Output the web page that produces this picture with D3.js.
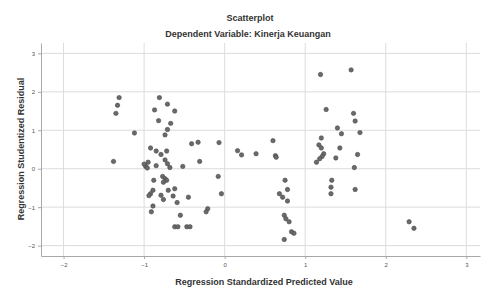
<!DOCTYPE html>
<html>
<head>
<meta charset="utf-8">
<script src="https://cdn.jsdelivr.net/npm/d3@7"></script>
<style>
body { margin: 0; background: #fff; }
text { font-family: Arial, "Liberation Sans", sans-serif; }
</style>
</head>
<body>
<div id="chart"></div>
<script>
var width = 483
var height = 288

// standardized predicted values (x) and studentized residuals (y)
var predicted = [
	-1.31, -1.33, -1.35, -0.81, -0.71, -0.87, -0.62, -0.82, -0.67, -0.71,
	-1.12, -0.74, -0.41, -0.33, -0.07, 0.16, -0.92, -0.85, -0.72, -0.79,
	-0.74, -1.38, -0.95, -0.98, -1.00, -0.96, -0.85, -0.71, -0.68, -0.52,
	-0.31, -0.08, -0.88, -0.77, -0.74, -0.72, -0.76, -0.62, -0.70, -0.89,
	-0.92, -0.94, -0.79, -0.64, -0.76, -0.45, -0.04, -0.59, -0.89, -0.91,
	-0.21, -0.23, -0.55, -0.62, -0.58, -0.47, -0.43,
	1.19, 1.57, 1.26, 1.60, 1.62, 1.40, 1.45, 1.68, 0.60, 1.20,
	1.17, 1.20, 1.43, 0.21, 0.39, 0.63, 0.64, 1.23, 1.21, 1.18,
	1.14, 1.38, 1.65, 1.61, 0.75, 0.78, 0.68, 0.72, 0.78, 1.33,
	1.32, 1.32, 1.62, 0.74, 0.76, 0.80, 0.83, 0.86, 0.74, 2.29, 2.35
];
var residual = [
	1.85, 1.65, 1.44, 1.85, 1.68, 1.53, 1.50, 1.25, 1.18, 1.02,
	0.93, 0.88, 0.65, 0.69, 0.68, 0.47, 0.54, 0.46, 0.46, 0.37,
	0.23, 0.19, 0.17, 0.06, 0.12, 0.02, 0.08, 0.13, 0.03, 0.06,
	0.19, -0.20, -0.30, -0.20, -0.26, -0.30, -0.35, -0.52, -0.56, -0.56,
	-0.65, -0.70, -0.69, -0.71, -0.80, -0.74, -0.65, -0.88, -0.97, -1.12,
	-1.04, -1.12, -1.21, -1.51, -1.51, -1.51, -1.51,
	2.45, 2.57, 1.54, 1.44, 1.24, 1.06, 0.91, 0.94, 0.73, 0.80,
	0.62, 0.54, 0.54, 0.36, 0.39, 0.34, 0.30, 0.39, 0.32, 0.26,
	0.17, 0.28, 0.37, 0.03, -0.30, -0.54, -0.65, -0.74, -0.84, -0.30,
	-0.48, -0.65, -0.54, -1.21, -1.30, -1.38, -1.64, -1.68, -1.84, -1.38, -1.55
];
var xTicks = [-2, -1, 0, 1, 2, 3];
var yTicks = [-2, -1, 0, 1, 2, 3];

var margin = { top: 43, right: 3, bottom: 32, left: 41 };

var svg = d3.select("#chart")
	.append("svg")
	.attr("width", width)
	.attr("height", height);

var x = d3.scaleLinear()
	.domain([-2.28, 3.17])
	.range([margin.left, width - margin.right]);

var y = d3.scaleLinear()
	.domain([-2.27, 3.27])
	.range([height - margin.bottom, margin.top]);

// gridlines
svg.append("g")
	.selectAll("line")
	.data(yTicks)
	.enter()
	.append("line")
	.attr("x1", margin.left)
	.attr("x2", width - margin.right)
	.attr("y1", (d) => y(d))
	.attr("y2", (d) => y(d))
	.attr("stroke", "#dcdcdc");

svg.append("g")
	.selectAll("line")
	.data(xTicks)
	.enter()
	.append("line")
	.attr("x1", (d) => x(d))
	.attr("x2", (d) => x(d))
	.attr("y1", margin.top)
	.attr("y2", height - margin.bottom)
	.attr("stroke", "#dcdcdc");

// axes
var xAxis = svg.append("g")
	.attr("transform", "translate(0," + (height - margin.bottom) + ")")
	.call(d3.axisBottom(x).tickValues(xTicks).tickSize(3).tickSizeOuter(0).tickFormat(d3.format("d")));

var yAxis = svg.append("g")
	.attr("transform", "translate(" + margin.left + ",0)")
	.call(d3.axisLeft(y).tickValues(yTicks).tickSize(3).tickSizeOuter(0).tickFormat(d3.format("d")));

[xAxis, yAxis].forEach((a) => {
	a.select(".domain").attr("stroke", "#a8a8a8");
	a.selectAll(".tick line").attr("stroke", "#a8a8a8");
	a.selectAll(".tick text")
		.attr("fill", "#555")
		.style("font-size", "6px");
});
xAxis.selectAll(".tick text").attr("dy", "0.9em");

// points
svg.append("g")
	.selectAll("circle")
	.data(predicted)
	.enter()
	.append("circle")
	.attr("cx", (d) => x(d))
	.attr("cy", (d, i) => y(residual[i]))
	.attr("r", 2.2)
	.attr("fill", "#6a6a6a")
	.attr("stroke", "#4a4a4a")
	.attr("stroke-width", 0.6);

// titles
svg.append("text")
	.attr("x", 250)
	.attr("y", 21)
	.attr("text-anchor", "middle")
	.style("font-size", "9px")
	.style("font-weight", "bold")
	.attr("fill", "#333")
	.text("Scatterplot");

svg.append("text")
	.attr("x", 248)
	.attr("y", 37)
	.attr("text-anchor", "middle")
	.style("font-size", "9px")
	.style("font-weight", "bold")
	.attr("fill", "#333")
	.text("Dependent Variable: Kinerja Keuangan");

svg.append("text")
	.attr("x", 264)
	.attr("y", 285)
	.attr("text-anchor", "middle")
	.style("font-size", "9px")
	.style("font-weight", "bold")
	.attr("fill", "#333")
	.text("Regression Standardized Predicted Value");

svg.append("text")
	.attr("transform", "translate(24,149) rotate(-90)")
	.attr("text-anchor", "middle")
	.style("font-size", "9px")
	.style("font-weight", "bold")
	.attr("fill", "#333")
	.text("Regression Studentized Residual");
</script>
</body>
</html>
